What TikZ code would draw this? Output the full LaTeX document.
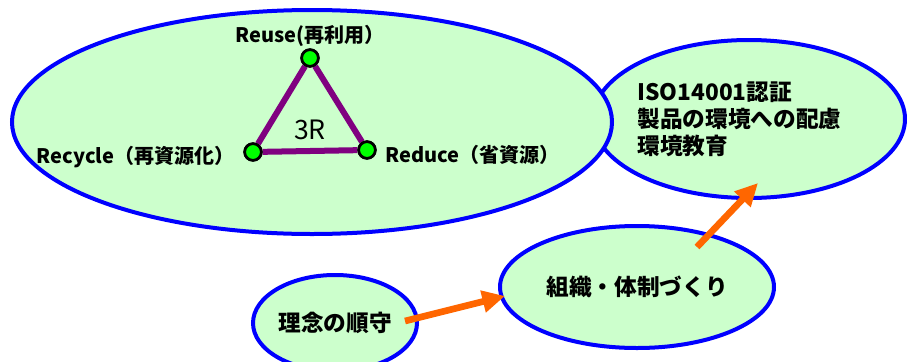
\documentclass[tikz,border=0pt]{standalone}
\usepackage{fontspec}
\setmainfont{Noto Sans CJK JP}
\usetikzlibrary{shapes.geometric,arrows.meta}

\tikzset{every picture/.style={line width=0.75pt}}
\tikzset{
  bubble/.style={ellipse, draw={rgb, 255:red, 0; green, 0; blue, 255}, fill={rgb, 255:red, 204; green, 255; blue, 204}, line width=3pt, inner sep=0pt},
  rdot/.style={circle, draw=black, line width=2pt, fill={rgb, 255:red, 0; green, 255; blue, 0}, minimum size=12.5pt, inner sep=0pt},
  biglbl/.style={font=\bfseries\fontsize{17pt}{20.25pt}\selectfont, inner sep=0.75pt},
  smalllbl/.style={font=\bfseries\fontsize{15pt}{18pt}\selectfont, inner sep=0.75pt},
  flow/.style={draw={rgb, 255:red, 255; green, 102; blue, 0}, line width=5pt, -{Triangle[length=17pt,width=16pt]}}
}

\begin{document}
\begin{tikzpicture}[x=0.75pt,y=0.75pt,yscale=-1,xscale=1]
\useasboundingbox (0,0) rectangle (907,361);

%Shape: Ellipse [id:iso]
\node [bubble, minimum width=234pt, minimum height=118.5pt] (iso) at (749,119) {};
%Shape: Ellipse [id:threeR]
\node [bubble, minimum width=450pt, minimum height=168pt] (threeR) at (312,122) {};
%Shape: Ellipse [id:soshiki]
\node [bubble, minimum width=205.5pt, minimum height=91.5pt, biglbl] (soshiki) at (637,287) {組織・体制づくり};
%Shape: Ellipse [id:rinen]
\node [bubble, minimum width=123pt, minimum height=72pt, biglbl] (rinen) at (335,323) {理念の順守};

%Shape: Circle [id:reuse]
\node [rdot] (reuse) at (310,58) {};
%Shape: Circle [id:recycle]
\node [rdot] (recycle) at (253,152) {};
%Shape: Circle [id:reduce]
\node [rdot] (reduce) at (367,150) {};
% Triangle
\draw [draw={rgb, 255:red, 128; green, 0; blue, 128}, line width=4.5pt] (reuse) -- (recycle) -- (reduce) -- (reuse);
\node [rdot] at (reuse) {};
\node [rdot] at (recycle) {};
\node [rdot] at (reduce) {};

% Text Node
\node [smalllbl] (reuselbl) at (310,36) {Reuse(再利用）};
% Text Node
\node [smalllbl, anchor=east] (recyclelbl) at (236,157) {Recycle（再資源化）};
% Text Node
\node [smalllbl, anchor=west] (reducelbl) at (384,155) {Reduce（省資源）};
% Text Node
\node [font=\fontsize{20pt}{22pt}\selectfont, inner sep=0.75pt] (trlbl) at (310,130) {3R};
% Text Node
\node [biglbl, anchor=north west, align=left] (isolbl) at (636,80) {ISO14001認証\\製品の環境への配慮\\環境教育};

% Arrows
\coordinate (f1) at (405,321);
\coordinate (t1) at (505,296);
\coordinate (f2) at (697,247);
\coordinate (t2) at (758,183);
\draw [flow] (f1) -- (t1);
\draw [flow] (f2) -- (t2);

\end{tikzpicture}
\end{document}
